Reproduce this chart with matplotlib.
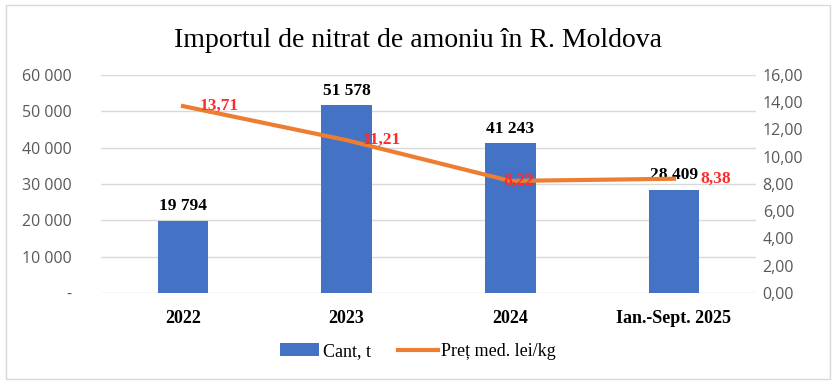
import matplotlib.pyplot as plt
from matplotlib.patches import Rectangle

categories = ['2022', '2023', '2024', 'Ian.-Sept. 2025']
cant = [19794, 51578, 41243, 28409]
pret = [13.71, 11.21, 8.22, 8.38]

def fmt_thousands(v):
    return f'{int(v):,}'.replace(',', ' ')

fig = plt.figure(figsize=(8.36, 3.84), dpi=100)
fig.patches.append(Rectangle((0.007, 0.013), 0.986, 0.974, transform=fig.transFigure,
                             fill=False, edgecolor='#D9D9D9', linewidth=1))
ax = fig.add_axes([0.121, 0.237, 0.783, 0.568])
ax2 = ax.twinx()

x = list(range(len(categories)))
ax.bar(x, cant, width=0.31, color='#4472C4', zorder=2, label='Cant, t')
ax.set_ylim(0, 60000)
ax.set_xlim(-0.5, len(categories) - 0.5)
ax.set_yticks(range(0, 60001, 10000))
ax.set_yticklabels(['-'] + [fmt_thousands(v) for v in range(10000, 60001, 10000)])
ax.grid(axis='y', color='#D9D9D9', linewidth=1, zorder=0)
ax.set_axisbelow(True)
ax.set_xticks(x)
ax.set_xticklabels(categories, fontfamily='Liberation Serif', fontweight='bold', fontsize=13)

for xi, v in zip(x, cant):
    ax.text(xi, v + 1800, fmt_thousands(v), ha='center', va='bottom',
            fontfamily='Liberation Serif', fontweight='bold', fontsize=12.5, zorder=5)

ax2.plot(x, pret, color='#ED7D31', linewidth=3, zorder=3, label='Preț med. lei/kg')
ax2.set_ylim(0, 16)
ax2.set_yticks(range(0, 17, 2))
ax2.set_yticklabels([f'{v:.2f}'.replace('.', ',') for v in range(0, 17, 2)])
offsets = [0.1, 0.1, -0.04, 0.16]
for xi, v, dx in zip(x, pret, offsets):
    ax2.text(xi + dx, v, f'{v:.2f}'.replace('.', ','), ha='left', va='center',
             color='#FF2A2A', fontfamily='Liberation Serif', fontweight='bold', fontsize=12.5)

for a in (ax, ax2):
    for s in a.spines.values():
        s.set_visible(False)
    a.tick_params(length=0, labelcolor='#595959')
ax.tick_params(axis='y', pad=21)
ax.tick_params(axis='x', pad=12, labelcolor='black')
ax2.tick_params(axis='y', pad=5)
for lab in ax.get_yticklabels() + ax2.get_yticklabels():
    lab.set_fontfamily('Open Sans')
    lab.set_fontsize(11.5)

fig.text(0.5, 0.895, 'Importul de nitrat de amoniu în R. Moldova', ha='center', va='center',
         fontfamily='Liberation Serif', fontsize=20)

h1, l1 = ax.get_legend_handles_labels()
h2, l2 = ax2.get_legend_handles_labels()
fig.legend(h1 + h2, l1 + l2, loc='center', bbox_to_anchor=(0.5, 0.085), ncol=2, frameon=False,
           prop={'family': 'Liberation Serif', 'size': 13}, handlelength=2.2,
           handletextpad=0.2, columnspacing=1.5)

fig.savefig('out.png', dpi=100)
